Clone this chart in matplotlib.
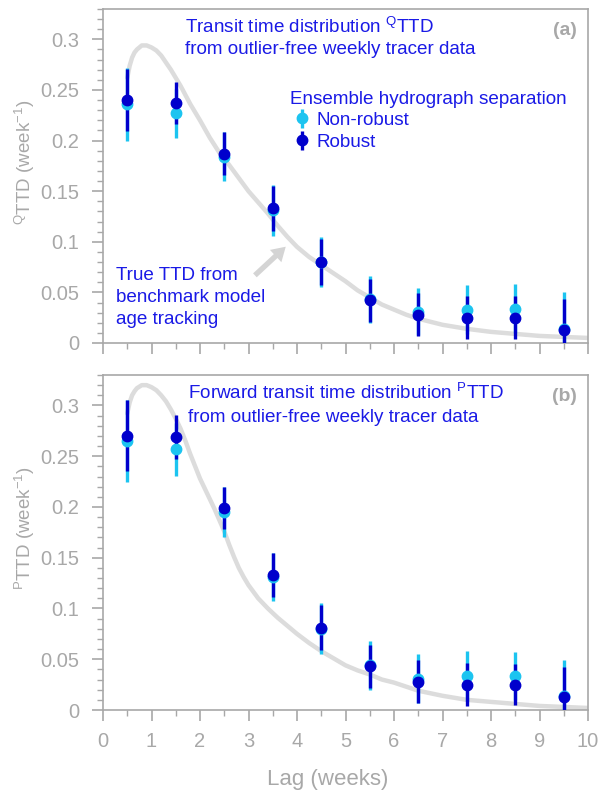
import matplotlib
matplotlib.use("Agg")
import matplotlib.pyplot as plt
from matplotlib.ticker import MultipleLocator, FixedLocator
from matplotlib import font_manager

# ---------------- data ----------------
lags = [0.5, 1.5, 2.5, 3.5, 4.5, 5.5, 6.5, 7.5, 8.5, 9.5]

# panel (a): QTTD
q_nonrobust = [0.236, 0.227, 0.184, 0.131, 0.080, 0.043, 0.031, 0.033, 0.034, 0.014]
q_nonrobust_err = [0.036, 0.024, 0.024, 0.025, 0.025, 0.023, 0.023, 0.024, 0.024, 0.036]
q_robust = [0.240, 0.237, 0.187, 0.133, 0.080, 0.042, 0.028, 0.025, 0.025, 0.013]
q_robust_err = [0.031, 0.021, 0.021, 0.022, 0.023, 0.021, 0.021, 0.021, 0.021, 0.030]

# panel (b): PTTD
p_nonrobust = [0.265, 0.257, 0.195, 0.131, 0.080, 0.044, 0.031, 0.0335, 0.0335, 0.0135]
p_nonrobust_err = [0.040, 0.026, 0.025, 0.024, 0.025, 0.024, 0.024, 0.0245, 0.024, 0.036]
p_robust = [0.270, 0.269, 0.199, 0.133, 0.081, 0.043, 0.028, 0.025, 0.025, 0.0125]
p_robust_err = [0.035, 0.022, 0.021, 0.022, 0.022, 0.021, 0.021, 0.021, 0.020, 0.030]

# true TTD curves from benchmark model
q_true_lag = [0.50, 0.55, 0.60, 0.65, 0.70, 0.80, 0.90, 1.00, 1.10, 1.20, 1.30, 1.40,
              1.50, 1.60, 1.70, 1.80, 1.90, 2.00, 2.20, 2.40, 2.60, 2.80, 3.00, 3.20,
              3.40, 3.60, 3.80, 4.00, 4.25, 4.50, 4.75, 5.00, 5.25, 5.50, 5.75, 6.00,
              6.25, 6.50, 7.00, 7.50, 8.00, 8.50, 9.00, 9.50, 10.0]
q_true = [0.262, 0.274, 0.282, 0.287, 0.290, 0.294, 0.294, 0.292, 0.289, 0.284, 0.277, 0.270,
          0.262, 0.254, 0.245, 0.236, 0.228, 0.220, 0.203, 0.188, 0.176, 0.163, 0.150, 0.139,
          0.128, 0.116, 0.105, 0.095, 0.085, 0.077, 0.069, 0.061, 0.052, 0.045, 0.038, 0.033,
          0.028, 0.024, 0.018, 0.014, 0.011, 0.009, 0.007, 0.006, 0.005]

p_true_lag = [0.50, 0.55, 0.60, 0.65, 0.70, 0.80, 0.90, 1.00, 1.10, 1.20, 1.30, 1.40,
              1.50, 1.60, 1.70, 1.80, 1.90, 2.00, 2.10, 2.20, 2.30, 2.40, 2.50, 2.60,
              2.70, 2.80, 2.90, 3.00, 3.20, 3.40, 3.60, 3.80, 4.00, 4.25, 4.50, 4.75,
              5.00, 5.25, 5.50, 5.75, 6.00, 6.25, 6.50, 7.00, 7.50, 8.00, 8.50, 9.00,
              9.50, 10.0]
p_true = [0.292, 0.303, 0.310, 0.314, 0.317, 0.320, 0.320, 0.318, 0.315, 0.310, 0.304, 0.296,
          0.287, 0.277, 0.265, 0.252, 0.240, 0.228, 0.218, 0.208, 0.198, 0.187, 0.176, 0.163,
          0.151, 0.140, 0.131, 0.123, 0.110, 0.100, 0.091, 0.083, 0.075, 0.066, 0.058, 0.051,
          0.044, 0.039, 0.035, 0.030, 0.027, 0.023, 0.019, 0.014, 0.010, 0.008, 0.006, 0.004,
          0.003, 0.002]

xticks = [0, 1, 2, 3, 4, 5, 6, 7, 8, 9, 10]
yticks = [0, 0.05, 0.1, 0.15, 0.2, 0.25, 0.3]
ytick_labels = ["0", "0.05", "0.1", "0.15", "0.2", "0.25", "0.3"]

# ---------------- style ----------------
plt.rcParams['font.family'] = ['Liberation Sans', 'DejaVu Sans']
plt.rcParams['mathtext.fontset'] = 'custom'
plt.rcParams['mathtext.rm'] = 'Liberation Sans'
plt.rcParams['mathtext.it'] = 'Liberation Sans:italic'
plt.rcParams['mathtext.bf'] = 'Liberation Sans:bold'

GRAY = '#a8a8a8'
CURVE = '#dcdcdc'
DARK = '#0000cc'
CYAN = '#1cc4f0'
TXT = '#1a1ae6'

# narrow font for the y labels if available
narrow_family = None
for cand in ['Liberation Sans Narrow', 'DejaVu Sans Condensed']:
    try:
        font_manager.findfont(font_manager.FontProperties(family=cand),
                              fallback_to_default=False)
        narrow_family = cand
        break
    except Exception:
        pass
if narrow_family:
    YL_FAMILY = [narrow_family, 'Liberation Sans']
    YL_SIZE = 15
else:
    YL_FAMILY = ['Liberation Sans']
    YL_SIZE = 13.5

fig = plt.figure(figsize=(6.02, 7.96), dpi=100)
L, W = 103 / 602, 485 / 602
ax1 = fig.add_axes([L, 1 - 343 / 796, W, 334 / 796])
ax2 = fig.add_axes([L, 1 - 710 / 796, W, 335 / 796])


def style(ax, show_xlabels):
    ax.set_xlim(0, 10)
    ax.set_ylim(0, 0.33)
    for s in ax.spines.values():
        s.set_color(GRAY)
        s.set_linewidth(1.2)
    ax.xaxis.set_major_locator(FixedLocator(xticks))
    ax.xaxis.set_minor_locator(MultipleLocator(0.5))
    ax.yaxis.set_major_locator(FixedLocator(yticks))
    ax.yaxis.set_minor_locator(MultipleLocator(0.01))
    ax.set_yticklabels(ytick_labels)
    ax.tick_params(which='major', direction='out', length=8, width=1.2, color=GRAY,
                   labelcolor=GRAY, labelsize=14.5)
    ax.tick_params(axis='x', which='major', pad=8)
    ax.tick_params(axis='y', which='major', pad=9)
    ax.tick_params(which='minor', direction='out', length=4, width=1.0, color=GRAY)
    ax.tick_params(top=False, right=False, which='both')
    if show_xlabels:
        ax.set_xticklabels([str(v) for v in xticks])
    else:
        ax.tick_params(axis='x', labelbottom=False)


def draw(ax, tlag, tval, nr, nr_err, rb, rb_err):
    ax.plot(tlag, tval, color=CURVE, lw=3.2, solid_capstyle='round', zorder=1)
    c1 = ax.errorbar(lags, nr, yerr=nr_err, fmt='o', color=CYAN, ms=7.5,
                     elinewidth=2.4, capsize=0, label='Non-robust')
    c2 = ax.errorbar(lags, rb, yerr=rb_err, fmt='o', color=DARK, ms=7.5,
                     elinewidth=2.4, capsize=0, label='Robust')
    for lc in c1[2]:
        lc.set_zorder(3)
    for lc in c2[2]:
        lc.set_zorder(4)
    c1[0].set_zorder(5)
    c2[0].set_zorder(6)
    return c1, c2


style(ax1, False)
style(ax2, True)

h1, h2 = draw(ax1, q_true_lag, q_true, q_nonrobust, q_nonrobust_err, q_robust, q_robust_err)
draw(ax2, p_true_lag, p_true, p_nonrobust, p_nonrobust_err, p_robust, p_robust_err)

FS = 13.6
# panel (a) texts
ax1.text(0.169, 0.928, r'Transit time distribution $^{\mathrm{Q}}$TTD', transform=ax1.transAxes,
         color=TXT, fontsize=FS, va='baseline', ha='left')
ax1.text(0.169, 0.865, 'from outlier-free weekly tracer data', transform=ax1.transAxes,
         color=TXT, fontsize=FS, va='baseline', ha='left')
ax1.text(0.977, 0.937, '(a)', transform=ax1.transAxes, color=GRAY, fontsize=14,
         fontweight='bold', ha='right', va='center')
ax1.text(0.3856, 0.7156, 'Ensemble hydrograph separation', transform=ax1.transAxes,
         color=TXT, fontsize=FS, va='baseline', ha='left')
leg = ax1.legend(handles=[h1, h2], loc='upper left', bbox_to_anchor=(0.397, 0.692),
                 frameon=False, fontsize=FS, handlelength=0.7, handletextpad=0.4,
                 labelspacing=0.25, borderpad=0, borderaxespad=0)
for t in leg.get_texts():
    t.set_color(TXT)

for i, line in enumerate(['True TTD from', 'benchmark model', 'age tracking']):
    ax1.text(0.027, 0.1886 - i * 0.0655, line, transform=ax1.transAxes,
             color=TXT, fontsize=FS, va='baseline', ha='left')
ax1.annotate('', xy=(3.81, 0.097), xytext=(3.09, 0.065),
             arrowprops=dict(arrowstyle='simple,head_width=1.1,head_length=0.9,tail_width=0.35',
                             mutation_scale=11, color='#d4d4d4', lw=0), zorder=2)

# panel (b) texts
ax2.text(0.175, 0.9275, r'Forward transit time distribution $^{\mathrm{P}}$TTD',
         transform=ax2.transAxes, color=TXT, fontsize=FS, va='baseline', ha='left')
ax2.text(0.175, 0.861, 'from outlier-free weekly tracer data', transform=ax2.transAxes,
         color=TXT, fontsize=FS, va='baseline', ha='left')
ax2.text(0.977, 0.937, '(b)', transform=ax2.transAxes, color=GRAY, fontsize=14,
         fontweight='bold', ha='right', va='center')

# axis labels
fig.text(25 / 602, 1 - 162 / 796, r'$^{\mathrm{Q}}$TTD (week$^{\mathrm{-1}}$)', rotation=90,
         color=GRAY, fontsize=YL_SIZE, family=YL_FAMILY, ha='center', va='center')
fig.text(25 / 602, 1 - 528 / 796, r'$^{\mathrm{P}}$TTD (week$^{\mathrm{-1}}$)', rotation=90,
         color=GRAY, fontsize=YL_SIZE, family=YL_FAMILY, ha='center', va='center')
fig.text(327.5 / 602, 1 - 780 / 796, 'Lag (weeks)', color=GRAY, fontsize=16,
         ha='center', va='center')

fig.savefig('out.png', dpi=100)
